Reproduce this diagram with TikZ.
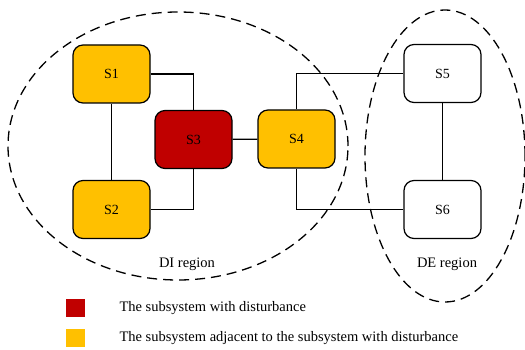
\documentclass[tikz,border=0pt]{standalone}
\usepackage{fontspec}
\setmainfont{Liberation Serif}
\usetikzlibrary{shapes.geometric}
\definecolor{distred}{HTML}{C00000}
\definecolor{adjyellow}{HTML}{FFC000}

\tikzset{
  subsys/.style={draw=black, line width=1.2pt, rounded corners=10pt,
    minimum width=77pt, minimum height=58pt, font=\fontsize{14}{14}\selectfont},
  link/.style={draw=black, line width=1.2pt},
  region/.style={draw=black, line width=1.3pt, dash pattern=on 10pt off 6pt},
  legbox/.style={minimum width=19pt, minimum height=18pt, inner sep=0pt},
  legtext/.style={anchor=west, font=\fontsize{14.5}{14.5}\selectfont},
}

\begin{document}
\begin{tikzpicture}[x=1pt,y=-1pt]
  \useasboundingbox (0,0) rectangle (525,350);

  % regions
  \draw[region] (178,146) ellipse (170pt and 134pt);
  \draw[region] (445,156) ellipse (80pt and 146pt);
  \node[font=\fontsize{14.5}{14.5}\selectfont] (diname) at (187,264) {DI region};
  \node[font=\fontsize{14.5}{14.5}\selectfont] (dename) at (447,264) {DE region};

  % subsystems
  \node[subsys, fill=adjyellow] (s1) at (111.5,74)  {S1};
  \node[subsys, fill=adjyellow] (s2) at (111.5,209.5) {S2};
  \node[subsys, fill=distred]   (s3) at (193.5,139.5) {S3};
  \node[subsys, fill=adjyellow] (s4) at (296.5,139) {S4};
  \node[subsys, fill=white]     (s5) at (442.5,73.5) {S5};
  \node[subsys, fill=white]     (s6) at (442.5,209.5) {S6};

  % couplings
  \draw[link] (s1) -- (s2);
  \draw[link] (s1.east) -| (s3.north);
  \draw[link] (s2.east) -| (s3.south);
  \draw[link] (s3) -- (s4);
  \draw[link] (s4.north) |- (s5.west);
  \draw[link] (s4.south) |- (s6.west);
  \draw[link] (s5) -- (s6);

  % legend
  \node[legbox, fill=distred]   (kred) at (75.5,308) {};
  \node[legbox, fill=adjyellow] (kyel) at (75.5,338) {};
  \node[legtext] (tred) at (116,308) {The subsystem with disturbance};
  \node[legtext] (tyel) at (116,338) {The subsystem adjacent to the subsystem with disturbance};
\end{tikzpicture}
\end{document}
